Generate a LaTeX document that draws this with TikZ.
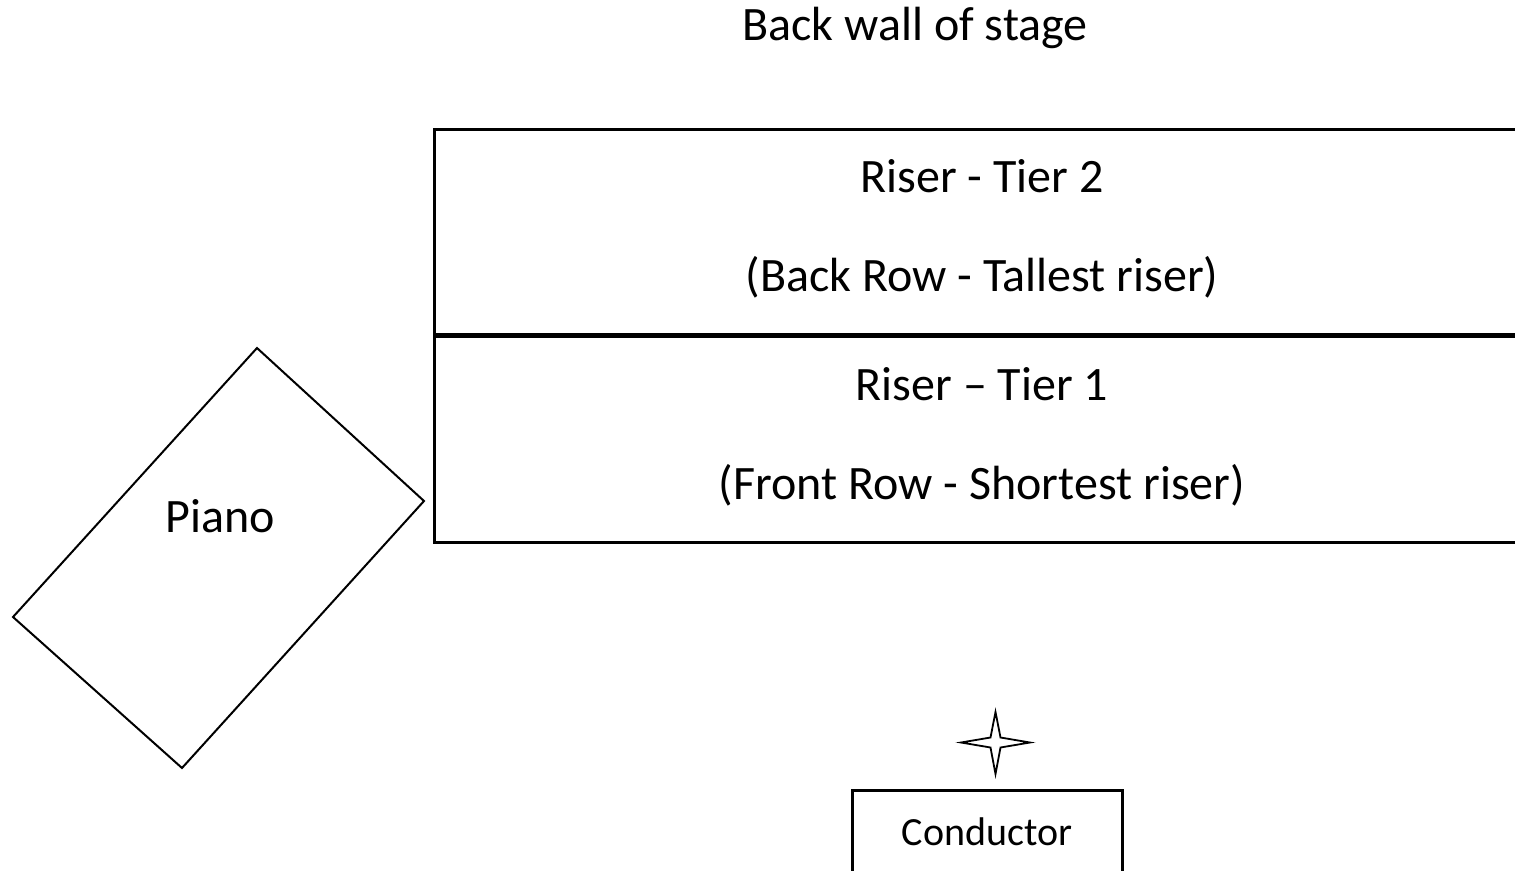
\documentclass[tikz,border=0pt]{standalone}
\usepackage{fontspec}
\setmainfont{Carlito}
\begin{document}
\begin{tikzpicture}[x=1pt,y=-1pt,
  box/.style={draw=black,line width=3pt},
  lbl/.style={font=\fontsize{48}{56}\selectfont,inner sep=0pt,anchor=base},
  thin/.style={draw=black,line width=2pt,line join=miter}]
\useasboundingbox (0,0) rectangle (1515,870);
\clip (0,0) rectangle (1515,870);
\node[lbl] (wall) at (915,40) {Back wall of stage};
\draw[box] (434.5,129.5) rectangle (1530,334.5);
\draw[box] (434.5,336.5) rectangle (1530,542);
\node[lbl] (t2a) at (982,192) {Riser - Tier 2};
\node[lbl] (t2b) at (982,291) {(Back Row - Tallest riser)};
\node[lbl] (t1a) at (982,400) {Riser – Tier 1};
\node[lbl] (t1b) at (982,499) {(Front Row - Shortest riser)};
\draw[thin] (257,348) -- (424,501) -- (182,768) -- (13,617) -- cycle;
\node[lbl] (piano) at (220,532) {Piano};
\draw[draw=black,line width=1.8pt,line join=miter]
  (995.5,712) -- (1000.5,737.5) -- (1030,742.5) -- (1000.5,747.5) -- (995.5,774)
  -- (990.5,747.5) -- (961,742.5) -- (990.5,737.5) -- cycle;
\draw[box] (852.5,790.5) rectangle (1122.5,900);
\node[lbl,font=\fontsize{40}{46}\selectfont] (cond) at (987,845) {Conductor};
\end{tikzpicture}
\end{document}
